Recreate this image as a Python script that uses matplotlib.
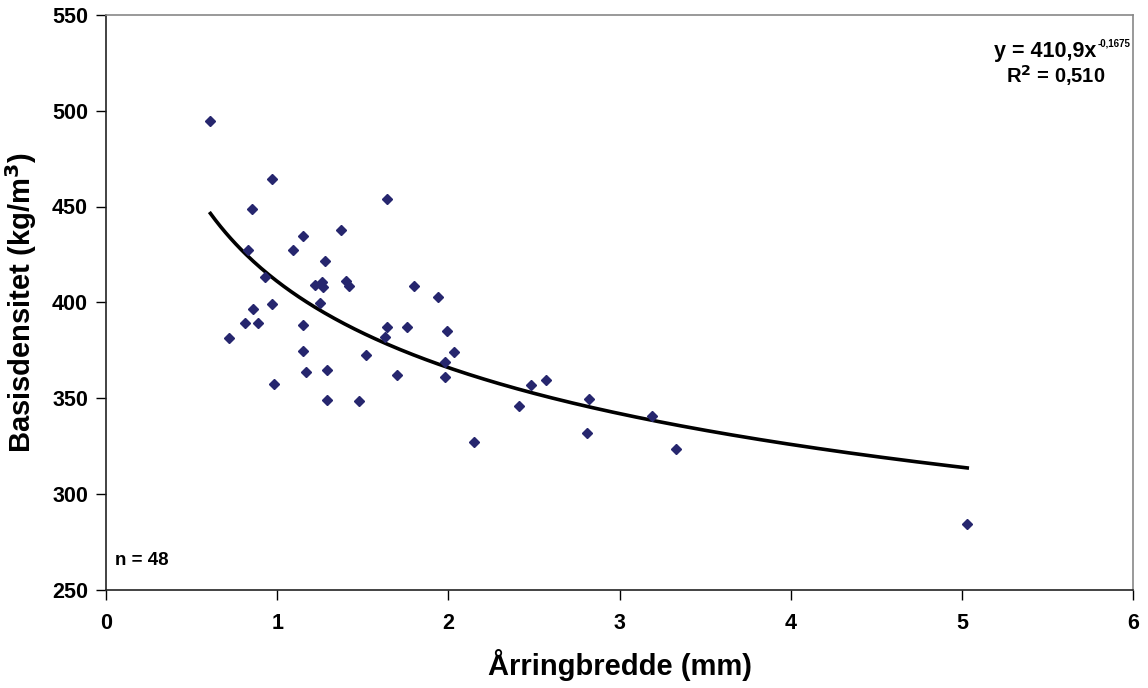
import numpy as np
import matplotlib
matplotlib.use("Agg")
import matplotlib.pyplot as plt

plt.rcParams['font.family'] = ['Liberation Sans', 'DejaVu Sans']
plt.rcParams['font.weight'] = 'bold'
plt.rcParams['mathtext.default'] = 'bf'

# Årringbredde (mm)
ring_width = [0.61, 0.97, 0.85, 1.64, 1.15, 1.37, 0.83, 1.09, 1.28, 0.93,
              1.22, 1.26, 1.27, 1.40, 1.42, 1.25, 0.97, 0.86, 0.81, 0.89,
              1.15, 0.72, 1.64, 1.63, 1.15, 1.52, 1.17, 1.29, 0.98, 1.29,
              1.48, 1.80, 1.94, 1.76, 1.99, 2.03, 1.98, 1.98, 1.70, 2.48,
              2.57, 2.41, 2.15, 2.82, 2.81, 3.19, 3.33, 5.03]
# Basisdensitet (kg/m3)
density = [494.5, 464.4, 448.7, 453.9, 434.8, 437.7, 427.1, 427.1, 421.7, 413.2,
           409.0, 410.7, 407.8, 411.1, 408.5, 399.5, 399.1, 396.6, 389.3, 389.3,
           388.3, 381.5, 387.2, 382.0, 374.4, 372.6, 363.7, 364.6, 357.2, 349.0,
           348.4, 408.3, 402.9, 387.1, 385.0, 374.0, 368.8, 361.1, 362.0, 356.6,
           359.2, 345.7, 326.9, 349.6, 331.9, 340.6, 323.4, 284.2]

# potens-trendlinje fra Excel
coef_a = 410.9
coef_b = -0.1675

W, H = 1148, 688
fig = plt.figure(figsize=(W / 100, H / 100), dpi=100)
ax = fig.add_axes([106 / W, 1 - 589.5 / H, (1133.3 - 106) / W, (589.5 - 15) / H])

xs = np.linspace(min(ring_width), max(ring_width), 300)
ax.plot(xs, coef_a * xs ** coef_b, color='black', lw=2.6, zorder=2)
ax.plot(ring_width, density, linestyle='none', marker='D', markersize=5.5,
        color='#26266e', zorder=3)

ax.set_xlim(0, 6)
ax.set_ylim(250, 550)
ax.set_xticks(range(0, 7))
ax.set_yticks(range(250, 551, 50))
ax.tick_params(direction='out', length=7, width=1, labelsize=15.5)
ax.tick_params(axis='y', pad=6)
ax.tick_params(axis='x', pad=10)
for lab in ax.get_xticklabels() + ax.get_yticklabels():
    lab.set_fontweight('bold')

for side in ['left', 'bottom']:
    ax.spines[side].set_color('#222222')
    ax.spines[side].set_linewidth(1.2)
for side in ['top', 'right']:
    ax.spines[side].set_color('#888888')
    ax.spines[side].set_linewidth(1.2)

ax.set_xlabel('Årringbredde (mm)', fontsize=21, fontweight='bold', labelpad=11)
ax.set_ylabel('Basisdensitet (kg/m$^{3}$)', fontsize=21, fontweight='bold', labelpad=9)

# trendlinje-etiketter
fig.text(1096 / W, 1 - 57 / H, 'y = 410,9x', ha='right', va='baseline',
         fontsize=15.5, fontweight='bold')
fig.text(1098 / W, 1 - 46 / H, '-0,1675', ha='left', va='baseline',
         fontsize=7, fontweight='bold')
fig.text(1056 / W, 1 - 83 / H, 'R$^{2}$ = 0,510', ha='center', va='baseline',
         fontsize=14.5, fontweight='bold')
fig.text(115 / W, 1 - 565 / H, 'n = 48', ha='left', va='baseline',
         fontsize=13.5, fontweight='bold')

fig.savefig('out.png', dpi=100)
